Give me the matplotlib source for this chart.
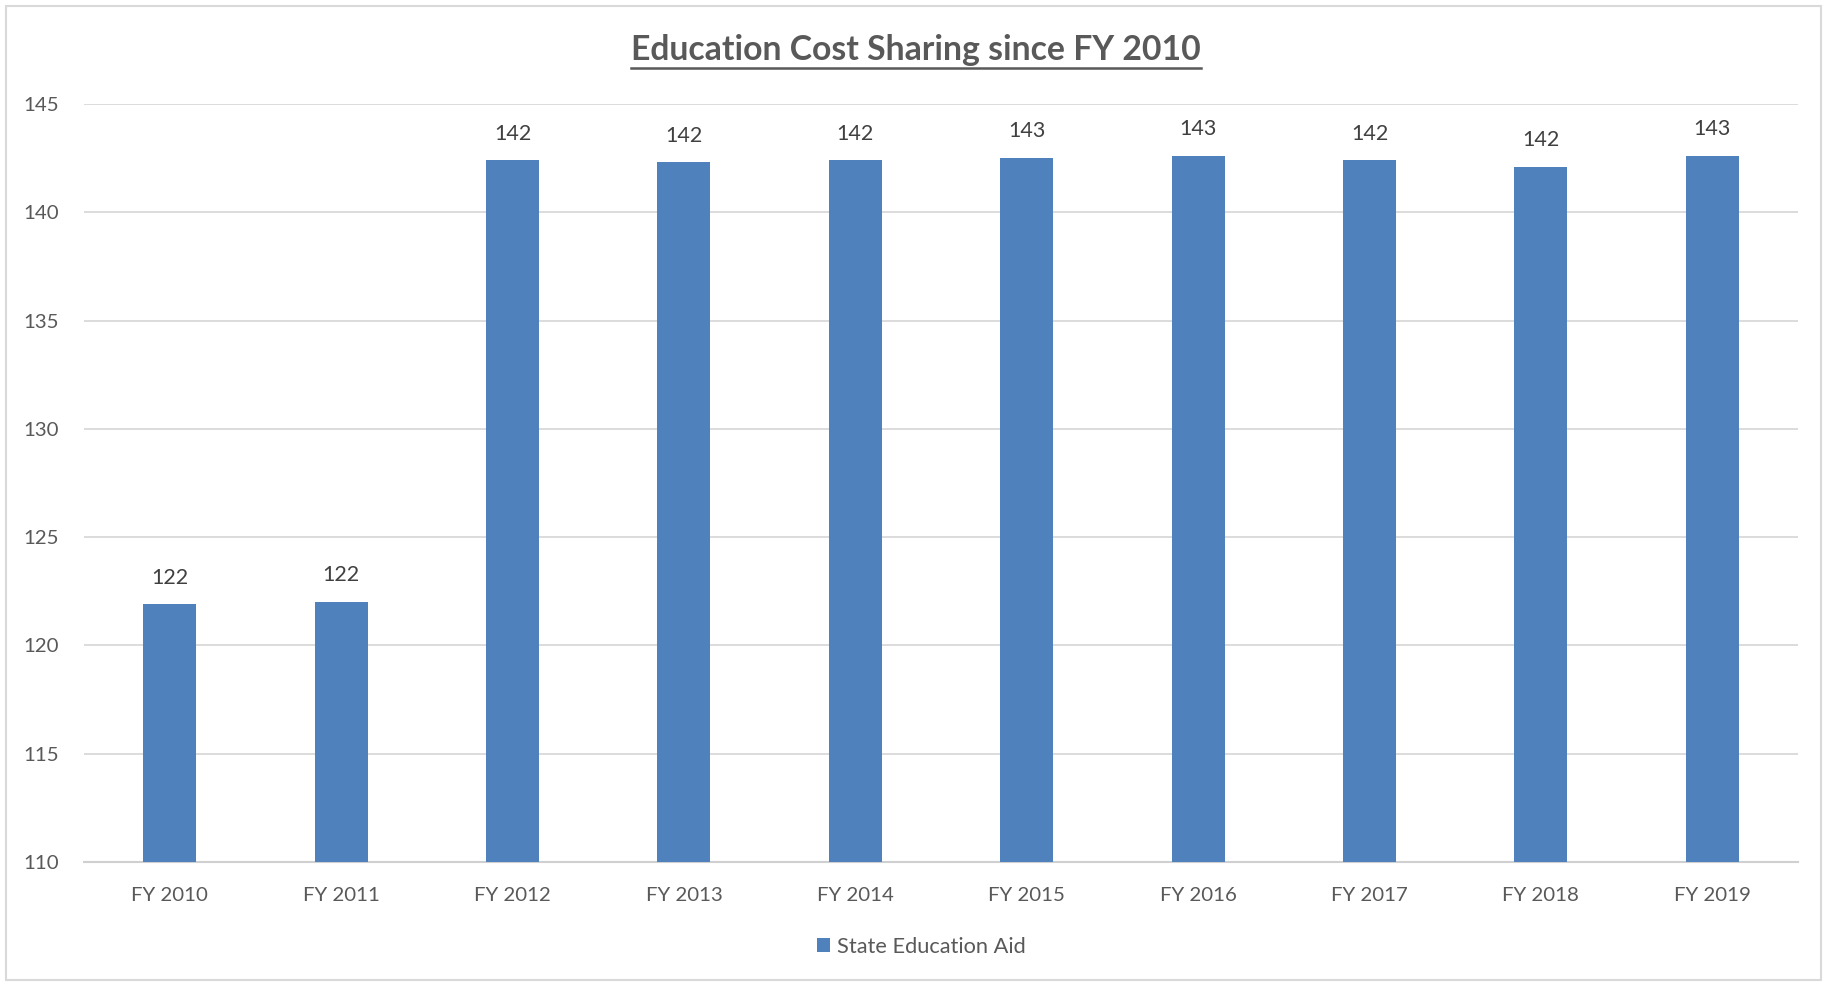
import matplotlib.pyplot as plt
from matplotlib.patches import Rectangle
from matplotlib.lines import Line2D

years = ["FY 2010", "FY 2011", "FY 2012", "FY 2013", "FY 2014",
         "FY 2015", "FY 2016", "FY 2017", "FY 2018", "FY 2019"]
aid = [121.9, 122.0, 142.4, 142.3, 142.4, 142.52, 142.6, 142.4, 142.1, 142.6]
series_name = "State Education Aid"
title = "Education Cost Sharing since FY 2010"

blue = "#4f81bd"
grey_text = "#595959"
grid = "#d9d9d9"

plt.rcParams['font.family'] = ['Lato', 'DejaVu Sans']

fig = plt.figure(figsize=(18.27, 9.82), dpi=100)
ax = fig.add_axes([84 / 1827, 1 - 862 / 982, 1714 / 1827, 758 / 982])

x = range(len(years))
bars = ax.bar(x, aid, width=0.31, color=blue, zorder=3)

for xi, v in zip(x, aid):
    ax.annotate(f"{v:.0f}", (xi, v), xytext=(0, 12), textcoords="offset points",
                ha="center", va="bottom", fontsize=15.5, color="#404040")

ax.set_xlim(-0.5, len(years) - 0.5)
ax.set_ylim(110, 145)
ax.set_yticks(range(110, 146, 5))
ax.set_xticks(list(x))
ax.set_xticklabels(years)
ax.tick_params(axis="both", length=0, labelsize=14.7, labelcolor=grey_text)
ax.tick_params(axis="y", pad=18)
ax.tick_params(axis="x", pad=18)
ax.grid(axis="y", color=grid, linewidth=1.3, zorder=0)
for side in ["top", "right", "left"]:
    ax.spines[side].set_visible(False)
ax.spines["bottom"].set_color("#d0d0d0")
ax.spines["bottom"].set_linewidth(1.5)

# title with underline
t = fig.text(0.5015, 1 - 50 / 982, title, ha="center", va="center",
             fontsize=24.3, fontweight="bold", color=grey_text)
fig.canvas.draw()
bb = t.get_window_extent().transformed(fig.transFigure.inverted())
fig.add_artist(Line2D([bb.x0, bb.x1], [bb.y0 - 0.002, bb.y0 - 0.002],
                      transform=fig.transFigure, color=grey_text, linewidth=1.8))

# legend
leg = ax.legend([bars], [series_name], loc="center", bbox_to_anchor=(0.5044, 1 - 947 / 982),
                bbox_transform=fig.transFigure, frameon=False, fontsize=15.7,
                handlelength=0.6, handleheight=0.6, handletextpad=0.3)
for txt in leg.get_texts():
    txt.set_color(grey_text)

# chart area border
fig.add_artist(Rectangle((6 / 1827, 0.002), 1 - 12 / 1827, 1 - 8 / 982,
                         transform=fig.transFigure, fill=False,
                         edgecolor=grid, linewidth=1.5))

fig.savefig("out.png", dpi=100, facecolor="white")
